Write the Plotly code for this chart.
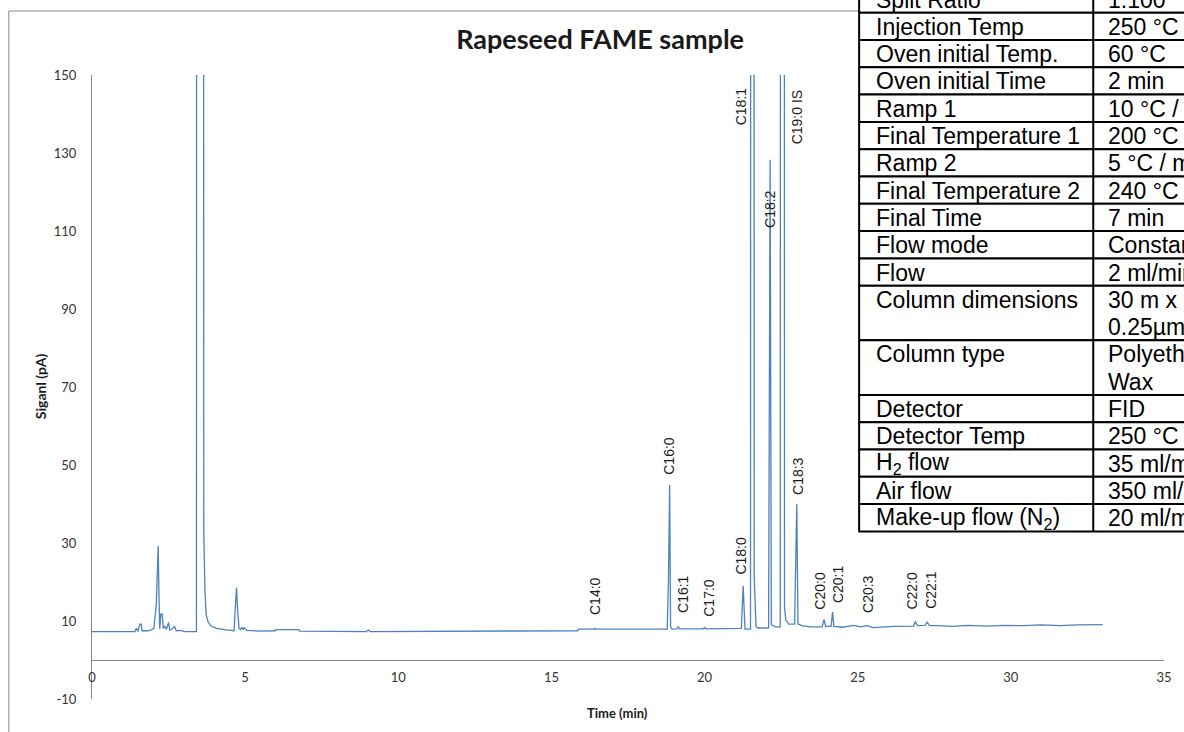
import plotly.graph_objects as go

# ---------------- data ----------------
time_min = [0.00, 1.40, 1.45, 1.50, 1.56, 1.61, 1.63, 1.83, 1.95, 2.02, 2.10, 2.16, 2.19, 2.21,
            2.25, 2.29, 2.33, 2.38, 2.43, 2.50, 2.54, 2.62, 2.69, 2.75, 2.92, 3.00, 3.41, 3.52,
            3.65, 3.69, 3.73, 3.79, 3.89, 4.06, 4.38, 4.64, 4.67, 4.72, 4.75, 4.80, 4.85, 4.89,
            4.93, 4.97, 5.05, 5.50, 5.98, 6.00, 6.75, 6.78, 8.95, 9.02, 9.08, 15.85, 15.90,
            16.40, 16.42, 16.45, 18.78, 18.82, 18.86, 18.89, 18.94, 19.10, 19.14, 19.18, 19.95,
            20.00, 20.05, 20.50, 21.20, 21.26, 21.32, 21.50, 21.56, 21.62, 21.68, 21.75, 22.09,
            22.14, 22.18, 22.32, 22.47, 22.555, 22.61, 22.65, 22.75, 22.94, 23.01, 23.05, 23.18,
            23.45, 23.84, 23.90, 23.95, 24.13, 24.18, 24.22, 24.50, 24.87, 25.10, 25.30, 25.50,
            26.20, 26.83, 26.88, 26.95, 27.20, 27.26, 27.35, 27.60, 28.10, 28.60, 29.20, 29.80,
            30.40, 31.00, 31.60, 32.20, 33.00]
signal_pA = [7.3, 7.3, 8.1, 7.3, 9.2, 9.2, 7.5, 7.5, 7.8, 8.1, 14.4, 29.2, 15.4, 8.0,
             11.8, 11.8, 8.1, 8.6, 7.9, 9.6, 7.7, 8.0, 8.7, 7.5, 7.6, 7.3, 7.3, 3000,
             32.5, 17.1, 11.5, 9.8, 8.7, 8.1, 7.7, 7.5, 12.4, 18.6, 13.2, 8.1, 7.8, 8.4,
             7.8, 8.3, 7.6, 7.4, 7.5, 7.8, 7.8, 7.4, 7.3, 7.7, 7.3, 7.5, 7.9,
             7.9, 8.1, 7.9, 7.9, 20.0, 44.9, 8.5, 7.9, 8.0, 8.6, 8.0, 8.0,
             8.3, 8.0, 8.1, 8.1, 19.0, 7.9, 7.9, 2000, 21.4, 8.5, 8.2, 8.2,
             128.3, 9.0, 8.5, 8.5, 2000, 13.7, 10.3, 9.2, 9.2, 40.0, 9.2, 8.8,
             8.5, 8.5, 10.4, 8.6, 8.6, 12.3, 8.6, 8.4, 8.9, 8.5, 8.8, 8.3,
             8.6, 8.7, 9.9, 8.8, 8.9, 9.7, 8.8, 8.8, 8.6, 8.9, 8.7, 8.9,
             8.8, 9.0, 8.8, 9.0, 9.05]

peak_names = ["C14:0", "C16:0", "C16:1", "C17:0", "C18:0", "C18:1", "C18:2", "C19:0 IS",
              "C18:3", "C20:0", "C20:1", "C20:3", "C22:0", "C22:1"]
peak_label_time = [16.44, 18.84, 19.29, 20.16, 21.19, 21.17, 22.14, 23.03,
                   23.03, 23.77, 24.36, 25.33, 26.77, 27.39]
peak_label_base = [10.9, 47.0, 11.5, 10.7, 21.4, 136.7, 110.3, 131.8,
                   41.9, 12.4, 14.1, 11.5, 12.4, 12.6]

x_ticks = [0, 5, 10, 15, 20, 25, 30, 35]
y_ticks = [-10, 10, 30, 50, 70, 90, 110, 130, 150]

table_params = ["Split Ratio", "Injection Temp", "Oven initial Temp.", "Oven initial Time",
                "Ramp 1", "Final Temperature 1", "Ramp 2", "Final Temperature 2", "Final Time",
                "Flow mode", "Flow", "Column dimensions", "Column type", "Detector",
                "Detector Temp", "H<sub>2</sub> flow", "Air flow", "Make-up flow (N<sub>2</sub>)"]
table_values = [["1:100"], ["250 °C"], ["60 °C"], ["2 min"], ["10 °C / min"], ["200 °C"],
                ["5 °C / min"], ["240 °C"], ["7 min"], ["Constant flow"], ["2 ml/min"],
                ["30 m x 0.25 mm x", "0.25µm"], ["Polyethylene Glycol", "Wax"], ["FID"],
                ["250 °C"], ["35 ml/min"], ["350 ml/min"], ["20 ml/min"]]

# ---------------- layout geometry ----------------
W, H = 1184, 732
L, R, T, B = 92, 1168, 75, 699


def px(xp):
    return (xp - L) / (R - L)


def py(yp):
    return (B - yp) / (B - T)


fig = go.Figure()
fig.add_trace(go.Scatter(x=time_min, y=signal_pA, mode="lines",
                         line=dict(color="#4F81BD", width=1.3), hoverinfo="skip",
                         showlegend=False))

annotations = []
shapes = []

# peak labels
for name, t, b in zip(peak_names, peak_label_time, peak_label_base):
    annotations.append(dict(x=t, y=b, xref="x", yref="y", text=name, textangle=-90,
                            showarrow=False, xanchor="center", yanchor="bottom",
                            font=dict(family="Liberation Sans, Arial", size=14, color="#1a1a1a")))

# axis titles
annotations.append(dict(x=px(619), y=py(713), xref="paper", yref="paper", text="<b>Time (min)</b>",
                        showarrow=False, xanchor="center", yanchor="middle",
                        font=dict(family="Lato", size=13, color="#1a1a1a")))
annotations.append(dict(x=px(40), y=py(386), xref="paper", yref="paper", text="<b>Siganl (pA)</b>",
                        textangle=-90, showarrow=False, xanchor="center", yanchor="middle",
                        font=dict(family="Lato", size=14, color="#1a1a1a")))

# chart border (left and top)
shapes.append(dict(type="line", xref="paper", yref="paper", x0=px(8.5), x1=px(8.5),
                   y0=py(11), y1=py(760), line=dict(color="#8a8a8a", width=1), layer="above"))
shapes.append(dict(type="line", xref="paper", yref="paper", x0=px(8.5), x1=px(862),
                   y0=py(11), y1=py(11), line=dict(color="#8a8a8a", width=1), layer="above"))

# parameter table
row_h = 27.3
tab_left, tab_mid, tab_right = 862, 1097, 1260
y_top = 12.7 - row_h
for prm, vals in zip(table_params, table_values):
    n = len(vals)
    y_bot = y_top + row_h * n
    shapes.append(dict(type="rect", xref="paper", yref="paper", x0=px(tab_left), x1=px(tab_right),
                       y0=py(y_top), y1=py(y_bot), line=dict(color="black", width=2),
                       fillcolor="white", layer="above"))
    shapes.append(dict(type="line", xref="paper", yref="paper", x0=px(tab_mid), x1=px(tab_mid),
                       y0=py(y_top), y1=py(y_bot), line=dict(color="black", width=2), layer="above"))
    annotations.append(dict(x=px(877), y=py(y_top + row_h / 2 + 0.5), xref="paper", yref="paper",
                            text=prm, showarrow=False, xanchor="left", yanchor="middle",
                            font=dict(family="Liberation Sans, Arial", size=23, color="black")))
    for i, v in enumerate(vals):
        annotations.append(dict(x=px(1110), y=py(y_top + row_h / 2 + 0.5 + row_h * i),
                                xref="paper", yref="paper", text=v, showarrow=False,
                                xanchor="left", yanchor="middle",
                                font=dict(family="Liberation Sans, Arial", size=23, color="black")))
    y_top = y_bot

fig.update_layout(
    width=W, height=H,
    margin=dict(l=L, r=W - R, t=T, b=H - B, pad=0),
    paper_bgcolor="white", plot_bgcolor="white",
    title=dict(text="<b>Rapeseed FAME sample</b>", x=px(602), xref="paper", xanchor="center",
               y=1 - 40 / H, yref="container", yanchor="middle",
               font=dict(family="Lato", size=27, color="#1a1a1a")),
    xaxis=dict(range=[0, 35], tickvals=x_ticks, ticktext=[str(v) for v in x_ticks],
               showgrid=False, zeroline=False, showline=True, linecolor="#868686", linewidth=1,
               ticks="", anchor="free", position=10 / 160, ticklabelstandoff=5,
               tickfont=dict(family="Lato", size=13, color="#333333")),
    yaxis=dict(range=[-10, 150], tickvals=y_ticks, ticktext=[str(v) for v in y_ticks],
               showgrid=False, zeroline=False, showline=True, linecolor="#868686", linewidth=1,
               ticks="", ticklabelstandoff=12, domain=[0, 1],
               tickfont=dict(family="Lato", size=13, color="#333333")),
    annotations=annotations,
    shapes=shapes,
)

fig.write_html("out.html", config={"displayModeBar": False},
               post_script="document.body.style.margin='0';document.body.style.overflow='hidden';")
